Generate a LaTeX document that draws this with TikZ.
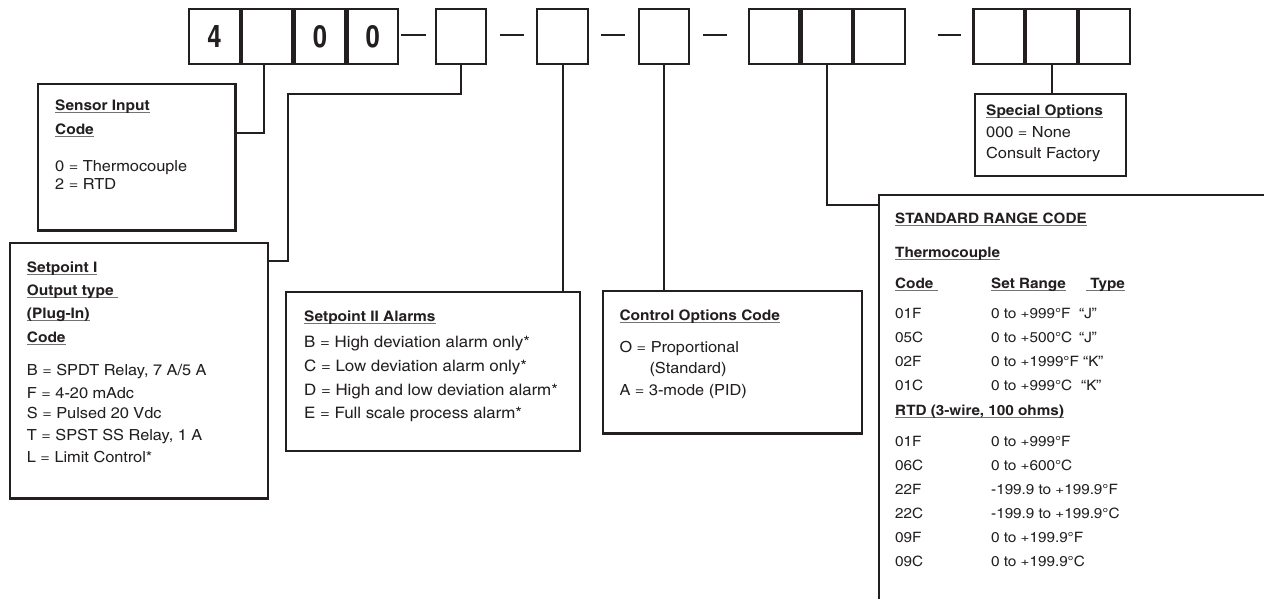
\documentclass[tikz,border=0pt]{standalone}
\usepackage{fontspec}
\setmainfont{texgyreheroscn}[Extension=.otf,UprightFont=*-regular,BoldFont=*-bold,FakeStretch=1.3]
\newfontfamily\digitfont{texgyreheroscn}[Extension=.otf,UprightFont=*-regular,BoldFont=*-bold]
\definecolor{ink}{HTML}{231F20}
\newcommand\uln[1]{\setbox0\hbox{#1}\rlap{\color{black!55}\rule[-2.6pt]{\wd0}{1.1pt}}\box0}
\newcommand\hd[1]{\uln{\bfseries #1}}
\begin{document}
\begin{tikzpicture}[x=1pt,y=-1pt,
  cell/.style={draw=ink,line width=2.2pt,minimum width=50.6pt,minimum height=55pt,inner sep=0pt,anchor=north west},
  digit/.style={font=\fontsize{31}{32}\selectfont\digitfont\bfseries,text=ink,inner sep=0pt},
  dashl/.style={draw=ink,line width=2.1pt},
  box/.style={draw=ink,line width=2.2pt,inner sep=0pt,anchor=north west},
  conn/.style={draw=ink,line width=2pt},
  txt/.style={anchor=base west,inner sep=0pt,text=ink,font=\fontsize{15.3}{18}\selectfont},
  htxt/.style={txt,font=\fontsize{14.5}{18}\selectfont},
  stxt/.style={txt,font=\fontsize{15.8}{18}\selectfont},
  rtxt/.style={txt,font=\fontsize{14.3}{16}\selectfont},
  rhtxt/.style={txt,font=\fontsize{14.3}{16}\selectfont}]
\useasboundingbox (0,0) rectangle (1264,599);
% top row
\node[cell] (c1) at (188,8) {};
\node[cell] (c2) at (c1.north east) {};
\node[cell] (c3) at (c2.north east) {};
\node[cell] (c4) at (c3.north east) {};
\node[digit] (d1) at (c1.center) {4};
\node[digit] (d3) at (c3.center) {0};
\node[digit] (d4) at (c4.center) {0};
\node[cell] (b5) at (434.6,8) {};
\node[cell] (b6) at (536.1,8) {};
\node[cell] (b7) at (637.6,8) {};
\node[cell] (g1) at (747.5,8) {};
\node[cell] (g2) at (g1.north east) {};
\node[cell] (g3) at (g2.north east) {};
\node[cell] (h1) at (972.3,8) {};
\node[cell] (h2) at (h1.north east) {};
\node[cell] (h3) at (h2.north east) {};
\coordinate (m1a) at (401.4,35); \coordinate (m1b) at (425.7,35);
\coordinate (m2a) at (499.6,35); \coordinate (m2b) at (523.9,35);
\coordinate (m3a) at (601.4,35); \coordinate (m3b) at (625.4,35);
\coordinate (m4a) at (703.2,35); \coordinate (m4b) at (727.1,35);
\coordinate (m5a) at (937.5,35); \coordinate (m5b) at (960.7,35);
\draw[dashl] (m1a) -- (m1b);
\draw[dashl] (m2a) -- (m2b);
\draw[dashl] (m3a) -- (m3b);
\draw[dashl] (m4a) -- (m4b);
\draw[dashl] (m5a) -- (m5b);
% boxes
\node[box,minimum width=197.6pt,minimum height=146.3pt] (sensor) at (36.7,83) {};
\node[box,minimum width=257.7pt,minimum height=255.6pt] (sp1) at (9,241.7) {};
\node[box,minimum width=293.5pt,minimum height=159.3pt] (sp2) at (285,290.7) {};
\node[box,minimum width=259.5pt,minimum height=142.8pt] (ctrl) at (601.5,289.5) {};
\node[box,minimum width=151pt,minimum height=82pt] (spec) at (974,93) {};
\coordinate (rngTL) at (879,195);
\coordinate (rngTR) at (1270,195);
\coordinate (rngBL) at (879,606);
\draw[draw=ink,line width=2.2pt] (rngTR) -- (rngTL) -- (rngBL);
% connectors
\coordinate (k1) at (260.4,133.3);
\draw[conn] ([xshift=-3.1pt]c2.south) -- ([xshift=-3.1pt]c2.south |- k1) -- (sensor.east |- k1);
\coordinate (k2) at (288,93.6);
\coordinate (k3) at (288,260.7);
\draw[conn] (b5.south) |- (k2) -- (k3) -- (sp1.east |- k3);
\draw[conn] (b6.south) -- (b6.south |- sp2.north);
\draw[conn] (b7.south) -- (b7.south |- ctrl.north);
\coordinate (k4) at (823,205.3);
\draw[conn] (g2.south) -- (g2.south |- k4) -- (rngTL |- k4);
\draw[conn] (h2.south) -- (h2.south |- spec.north);
% sensor text
\node[htxt] (sa1) at (55,110.5) {\hd{Sensor Input}};
\node[htxt] (sa2) at (55,134.5) {\hd{Code}};
\node[txt] (sa3) at (55,171.5) {0 = Thermocouple};
\node[txt] (sa4) at (55,189.8) {2 = RTD};
% setpoint I
\node[htxt] (sb1) at (26.7,272.2) {\hd{Setpoint I}};
\node[htxt] (sb2) at (26.7,295.5) {\hd{Output type\ }};
\node[htxt] (sb3) at (26.7,318.2) {\hd{(Plug-In)}};
\node[htxt] (sb4) at (26.7,342.2) {\hd{Code}};
\node[txt] (sb5) at (26.7,375.5) {B = SPDT Relay, 7 A/5 A};
\node[txt] (sb6) at (26.7,398.2) {F = 4-20 mAdc};
\node[txt] (sb7) at (26.7,418.8) {S = Pulsed 20 Vdc};
\node[txt] (sb8) at (26.7,440.5) {T = SPST SS Relay, 1 A};
\node[txt] (sb9) at (26.7,462.2) {L = Limit Control*};
% setpoint II
\node[htxt] (sc1) at (304,321.5) {\hd{Setpoint II Alarms}};
\node[stxt] (sc2) at (304,347.2) {B = High deviation alarm only*};
\node[stxt] (sc3) at (304,371.2) {C = Low deviation alarm only*};
\node[stxt] (sc4) at (304,395.5) {D = High and low deviation alarm*};
\node[stxt] (sc5) at (304,418.8) {E = Full scale process alarm*};
% control
\node[htxt] (sd1) at (619.3,320.5) {\hd{Control Options Code}};
\node[txt] (sd2) at (619.3,352.2) {O = Proportional};
\node[txt] (sd3) at (649.3,373.8) {(Standard)};
\node[txt] (sd4) at (619.3,395.5) {A = 3-mode (PID)};
% special
\node[htxt] (se1) at (986,115.5) {\hd{Special Options}};
\node[txt] (se2) at (986,137.5) {000 = None};
\node[txt] (se3) at (986,158.5) {Consult Factory};
% range
\node[rhtxt] (r0) at (895,223.3) {\hd{STANDARD RANGE CODE}};
\node[rhtxt] (r1) at (895,257.3) {\hd{Thermocouple}};
\node[rhtxt] (r2) at (895,288.3) {\hd{Code\ }};
\node[rhtxt] (r3) at (991,288.3) {\hd{Set Range}};
\node[rhtxt] (r4) at (1086,288.3) {\hd{\ Type}};
\node[rtxt] (ra1) at (895,318.3) {01F};  \node[rtxt] (rb1) at (991,318.3) {0 to +999°F};  \node[rtxt] (rc1) at (1079,318.3) {“J”};
\node[rtxt] (ra2) at (895,342.3) {05C};  \node[rtxt] (rb2) at (991,342.3) {0 to +500°C};  \node[rtxt] (rc2) at (1079,342.3) {“J”};
\node[rtxt] (ra3) at (895,366) {02F};    \node[rtxt] (rb3) at (991,366) {0 to +1999°F};   \node[rtxt] (rc3) at (1083,366) {“K”};
\node[rtxt] (ra4) at (895,390) {01C};    \node[rtxt] (rb4) at (991,390) {0 to +999°C};    \node[rtxt] (rc4) at (1081,390) {“K”};
\node[rhtxt] (r5) at (895,415) {\hd{RTD (3-wire, 100 ohms)}};
\node[rtxt] (ta1) at (895,446.7) {01F}; \node[rtxt] (tb1) at (991,446.7) {0 to +999°F};
\node[rtxt] (ta2) at (895,470.7) {06C}; \node[rtxt] (tb2) at (991,470.7) {0 to +600°C};
\node[rtxt] (ta3) at (895,494.7) {22F}; \node[rtxt] (tb3) at (991,494.7) {-199.9 to +199.9°F};
\node[rtxt] (ta4) at (895,518.7) {22C}; \node[rtxt] (tb4) at (991,518.7) {-199.9 to +199.9°C};
\node[rtxt] (ta5) at (895,542.7) {09F}; \node[rtxt] (tb5) at (991,542.7) {0 to +199.9°F};
\node[rtxt] (ta6) at (895,566.7) {09C}; \node[rtxt] (tb6) at (991,566.7) {0 to +199.9°C};
\end{tikzpicture}
\end{document}
